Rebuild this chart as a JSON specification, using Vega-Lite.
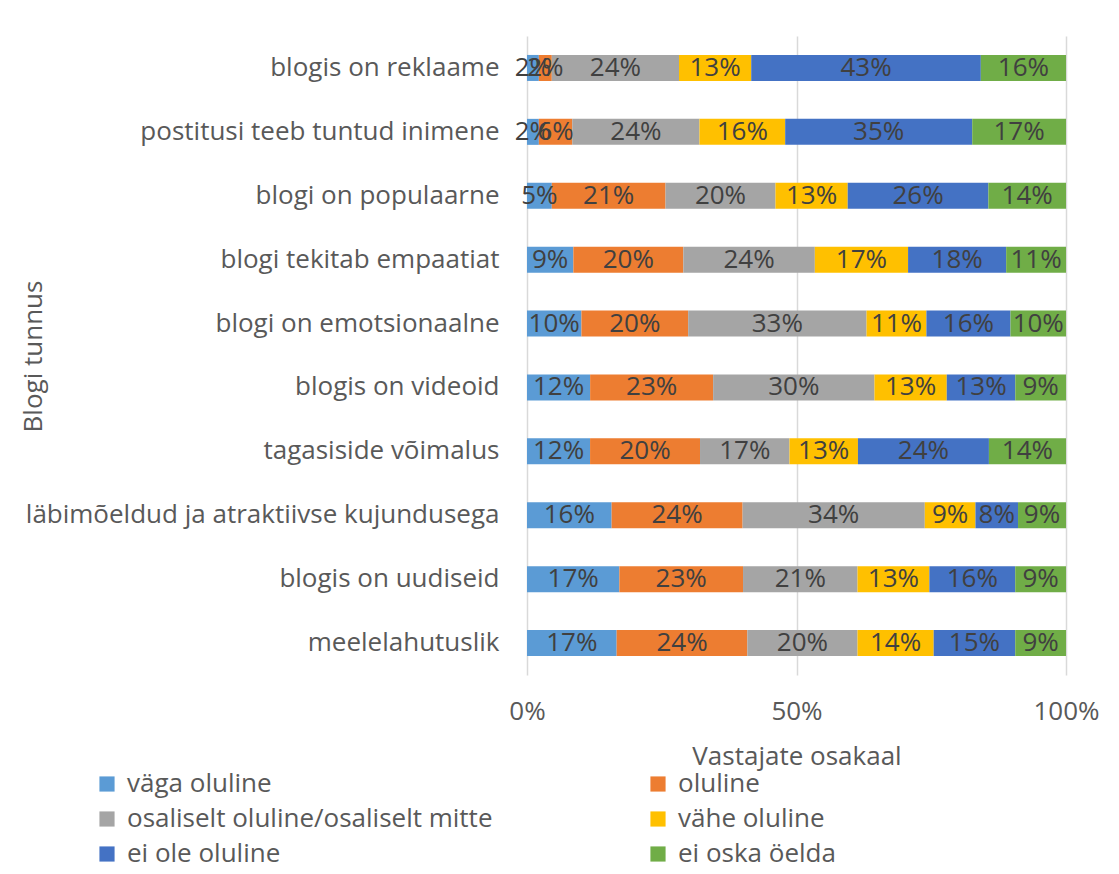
{
  "$schema": "https://vega.github.io/schema/vega-lite/v6.json",
  "width": 539,
  "height": 639,
  "autosize": "none",
  "padding": {"left": 527, "top": 36, "right": 53, "bottom": 199},
  "background": "white",
  "config": {
    "font": "Open Sans",
    "view": {"stroke": null},
    "axis": {"labelFont": "Open Sans", "titleFont": "Open Sans", "labelColor": "#595959", "titleColor": "#595959", "titleFontWeight": "normal"},
    "legend": {"labelFont": "Open Sans"}
  },
  "data": {
    "values": [
      {"t": "blogis on reklaame", "r": "väga oluline", "k": 1, "v": 0.022},
      {"t": "blogis on reklaame", "r": "oluline", "k": 2, "v": 0.024},
      {"t": "blogis on reklaame", "r": "osaliselt oluline/osaliselt mitte", "k": 3, "v": 0.236},
      {"t": "blogis on reklaame", "r": "vähe oluline", "k": 4, "v": 0.134},
      {"t": "blogis on reklaame", "r": "ei ole oluline", "k": 5, "v": 0.426},
      {"t": "blogis on reklaame", "r": "ei oska öelda", "k": 6, "v": 0.158},
      {"t": "postitusi teeb tuntud inimene", "r": "väga oluline", "k": 1, "v": 0.022},
      {"t": "postitusi teeb tuntud inimene", "r": "oluline", "k": 2, "v": 0.062},
      {"t": "postitusi teeb tuntud inimene", "r": "osaliselt oluline/osaliselt mitte", "k": 3, "v": 0.236},
      {"t": "postitusi teeb tuntud inimene", "r": "vähe oluline", "k": 4, "v": 0.159},
      {"t": "postitusi teeb tuntud inimene", "r": "ei ole oluline", "k": 5, "v": 0.347},
      {"t": "postitusi teeb tuntud inimene", "r": "ei oska öelda", "k": 6, "v": 0.174},
      {"t": "blogi on populaarne", "r": "väga oluline", "k": 1, "v": 0.046},
      {"t": "blogi on populaarne", "r": "oluline", "k": 2, "v": 0.211},
      {"t": "blogi on populaarne", "r": "osaliselt oluline/osaliselt mitte", "k": 3, "v": 0.204},
      {"t": "blogi on populaarne", "r": "vähe oluline", "k": 4, "v": 0.134},
      {"t": "blogi on populaarne", "r": "ei ole oluline", "k": 5, "v": 0.261},
      {"t": "blogi on populaarne", "r": "ei oska öelda", "k": 6, "v": 0.144},
      {"t": "blogi tekitab empaatiat", "r": "väga oluline", "k": 1, "v": 0.086},
      {"t": "blogi tekitab empaatiat", "r": "oluline", "k": 2, "v": 0.204},
      {"t": "blogi tekitab empaatiat", "r": "osaliselt oluline/osaliselt mitte", "k": 3, "v": 0.244},
      {"t": "blogi tekitab empaatiat", "r": "vähe oluline", "k": 4, "v": 0.173},
      {"t": "blogi tekitab empaatiat", "r": "ei ole oluline", "k": 5, "v": 0.182},
      {"t": "blogi tekitab empaatiat", "r": "ei oska öelda", "k": 6, "v": 0.111},
      {"t": "blogi on emotsionaalne", "r": "väga oluline", "k": 1, "v": 0.101},
      {"t": "blogi on emotsionaalne", "r": "oluline", "k": 2, "v": 0.198},
      {"t": "blogi on emotsionaalne", "r": "osaliselt oluline/osaliselt mitte", "k": 3, "v": 0.331},
      {"t": "blogi on emotsionaalne", "r": "vähe oluline", "k": 4, "v": 0.111},
      {"t": "blogi on emotsionaalne", "r": "ei ole oluline", "k": 5, "v": 0.156},
      {"t": "blogi on emotsionaalne", "r": "ei oska öelda", "k": 6, "v": 0.103},
      {"t": "blogis on videoid", "r": "väga oluline", "k": 1, "v": 0.117},
      {"t": "blogis on videoid", "r": "oluline", "k": 2, "v": 0.228},
      {"t": "blogis on videoid", "r": "osaliselt oluline/osaliselt mitte", "k": 3, "v": 0.299},
      {"t": "blogis on videoid", "r": "vähe oluline", "k": 4, "v": 0.134},
      {"t": "blogis on videoid", "r": "ei ole oluline", "k": 5, "v": 0.127},
      {"t": "blogis on videoid", "r": "ei oska öelda", "k": 6, "v": 0.094},
      {"t": "tagasiside võimalus", "r": "väga oluline", "k": 1, "v": 0.117},
      {"t": "tagasiside võimalus", "r": "oluline", "k": 2, "v": 0.204},
      {"t": "tagasiside võimalus", "r": "osaliselt oluline/osaliselt mitte", "k": 3, "v": 0.166},
      {"t": "tagasiside võimalus", "r": "vähe oluline", "k": 4, "v": 0.127},
      {"t": "tagasiside võimalus", "r": "ei ole oluline", "k": 5, "v": 0.243},
      {"t": "tagasiside võimalus", "r": "ei oska öelda", "k": 6, "v": 0.143},
      {"t": "läbimõeldud ja atraktiivse kujundusega", "r": "väga oluline", "k": 1, "v": 0.157},
      {"t": "läbimõeldud ja atraktiivse kujundusega", "r": "oluline", "k": 2, "v": 0.243},
      {"t": "läbimõeldud ja atraktiivse kujundusega", "r": "osaliselt oluline/osaliselt mitte", "k": 3, "v": 0.338},
      {"t": "läbimõeldud ja atraktiivse kujundusega", "r": "vähe oluline", "k": 4, "v": 0.094},
      {"t": "läbimõeldud ja atraktiivse kujundusega", "r": "ei ole oluline", "k": 5, "v": 0.079},
      {"t": "läbimõeldud ja atraktiivse kujundusega", "r": "ei oska öelda", "k": 6, "v": 0.089},
      {"t": "blogis on uudiseid", "r": "väga oluline", "k": 1, "v": 0.171},
      {"t": "blogis on uudiseid", "r": "oluline", "k": 2, "v": 0.229},
      {"t": "blogis on uudiseid", "r": "osaliselt oluline/osaliselt mitte", "k": 3, "v": 0.212},
      {"t": "blogis on uudiseid", "r": "vähe oluline", "k": 4, "v": 0.133},
      {"t": "blogis on uudiseid", "r": "ei ole oluline", "k": 5, "v": 0.159},
      {"t": "blogis on uudiseid", "r": "ei oska öelda", "k": 6, "v": 0.094},
      {"t": "meelelahutuslik", "r": "väga oluline", "k": 1, "v": 0.166},
      {"t": "meelelahutuslik", "r": "oluline", "k": 2, "v": 0.242},
      {"t": "meelelahutuslik", "r": "osaliselt oluline/osaliselt mitte", "k": 3, "v": 0.204},
      {"t": "meelelahutuslik", "r": "vähe oluline", "k": 4, "v": 0.141},
      {"t": "meelelahutuslik", "r": "ei ole oluline", "k": 5, "v": 0.151},
      {"t": "meelelahutuslik", "r": "ei oska öelda", "k": 6, "v": 0.094}
    ]
  },
  "encoding": {
    "y": {
      "field": "t",
      "type": "nominal",
      "sort": null,
      "scale": {"paddingInner": 0.593, "paddingOuter": 0.2965},
      "axis": {
        "title": "Blogi tunnus",
        "domain": false,
        "ticks": false,
        "grid": false,
        "labelFontSize": 26,
        "labelPadding": 28,
        "labelLimit": 600,
        "titleFontSize": 26,
        "titleX": -494,
        "titleY": 320,
        "titleAngle": -90,
        "titleAlign": "center",
        "titleBaseline": "middle"
      }
    }
  },
  "layer": [
    {
      "mark": {"type": "bar"},
      "encoding": {
        "x": {
          "field": "v",
          "type": "quantitative",
          "stack": "normalize",
          "scale": {"domain": [0, 1], "nice": false},
          "axis": {
            "title": "Vastajate osakaal",
            "values": [0, 0.5, 1],
            "format": ".0%",
            "domain": false,
            "ticks": false,
            "grid": true,
            "gridColor": "#D9D9D9",
            "gridWidth": 1.5,
            "labelFontSize": 26,
            "labelPadding": 23,
            "labelFlush": false,
            "titleFontSize": 26,
            "titlePadding": 19
          }
        },
        "order": {"field": "k", "type": "quantitative"},
        "color": {
          "field": "r",
          "type": "nominal",
          "scale": {
            "domain": ["väga oluline", "oluline", "osaliselt oluline/osaliselt mitte", "vähe oluline", "ei ole oluline", "ei oska öelda"],
            "range": ["#5B9BD5", "#ED7D31", "#A5A5A5", "#FFC000", "#4472C4", "#70AD47"]
          },
          "legend": {
            "title": null,
            "orient": "none",
            "direction": "horizontal",
            "legendX": -433,
            "legendY": 735,
            "columns": 2,
            "columnPadding": 152,
            "rowPadding": 9,
            "symbolType": "square",
            "symbolSize": 230,
            "symbolStrokeWidth": 0,
            "labelFontSize": 26,
            "labelColor": "#595959",
            "labelOffset": 7,
            "labelLimit": 600
          }
        }
      }
    },
    {
      "mark": {"type": "text", "fontSize": 26, "color": "#404040", "baseline": "middle", "align": "center"},
      "encoding": {
        "x": {"field": "v", "type": "quantitative", "stack": "normalize", "bandPosition": 0.5},
        "order": {"field": "k", "type": "quantitative"},
        "detail": {"field": "r", "type": "nominal"},
        "text": {"field": "v", "type": "quantitative", "format": ".0%"}
      }
    }
  ]
}
